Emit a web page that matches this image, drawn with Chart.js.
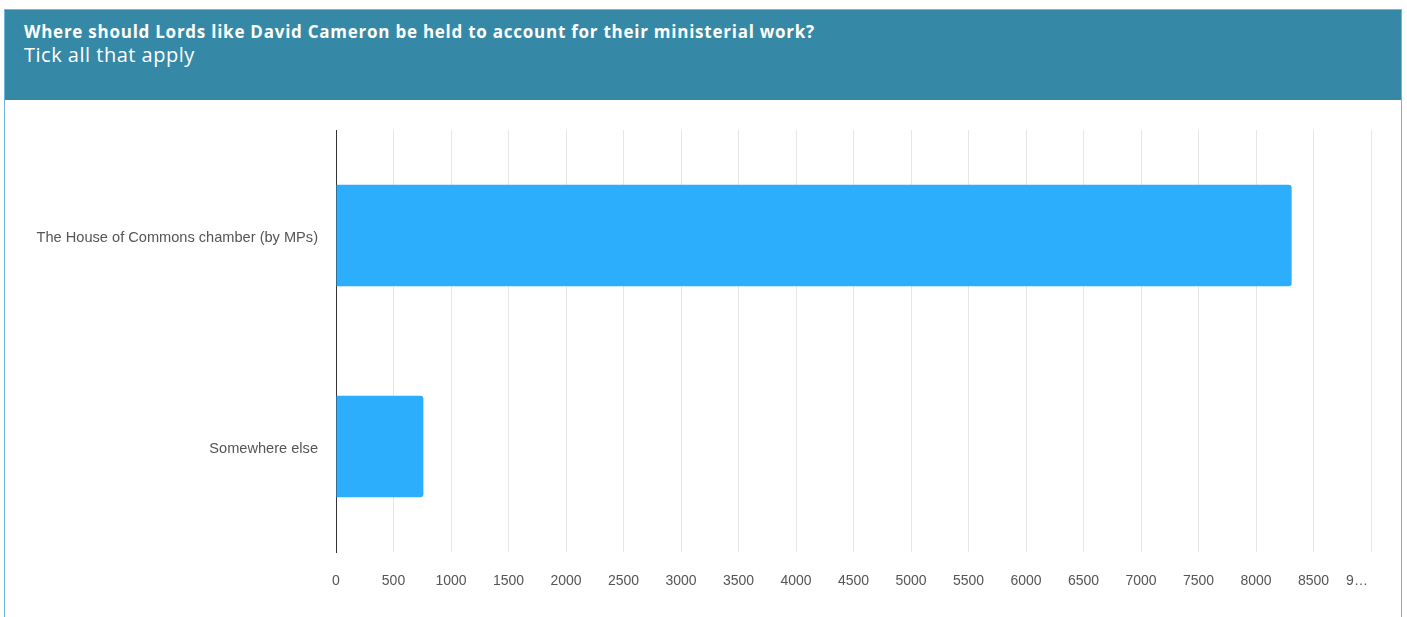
<!DOCTYPE html>
<html>
<head>
<meta charset="utf-8">
<title>Where should Lords be held to account</title>
<script src="https://cdn.jsdelivr.net/npm/chart.js@4"></script>
<style>
    body {
        margin: 0;
        background: #fff;
        font-family: "Open Sans", Lato, sans-serif;
    }
    .panel {
        position: absolute;
        left: 4px;
        top: 9px;
        width: 1396px;
        height: 640px;
        border: 1px solid #6fb6da;
    }
    .panel-head {
        height: 90px;
        background: #3589a6;
        color: #fff;
        padding: 0 19px;
        box-sizing: border-box;
    }
    .panel-head h1 {
        margin: 0;
        padding-top: 10px;
        font-size: 17px;
        letter-spacing: 0.75px;
        font-weight: 700;
    }
    .panel-head p {
        margin: -2px 0 0;
        font-size: 20px;
        letter-spacing: 0.5px;
        font-weight: 400;
    }
    .chart-box {
        position: relative;
        width: 1396px;
        height: 516px;
    }
</style>
</head>
<body>
<div class="panel">
    <div class="panel-head">
        <h1>Where should Lords like David Cameron be held to account for their ministerial work?</h1>
        <p>Tick all that apply</p>
    </div>
    <div class="chart-box">
        <canvas id="answersChart"></canvas>
    </div>
</div>

<script>
// Data
const answers = ['The House of Commons chamber (by MPs)', 'Somewhere else'];
const votes = [8310, 760];
const axisMax = 9000;
const axisStep = 500;

const fontFamily = '"Liberation Sans", Arial, sans-serif';

document.addEventListener('DOMContentLoaded', function() {
    const ctx = document.getElementById('answersChart').getContext('2d');
    new Chart(ctx, {
        type: 'bar',
        data: {
            labels: answers,
            datasets: [{
                data: votes,
                backgroundColor: '#2caefd',
                borderRadius: 3,
                borderSkipped: 'start',
                barPercentage: 0.6,
                categoryPercentage: 0.8
            }]
        },
        options: {
            indexAxis: 'y',
            responsive: true,
            maintainAspectRatio: false,
            animation: false,
            layout: {
                padding: { top: 30, right: 30, left: 0, bottom: 0 }
            },
            plugins: {
                legend: { display: false },
                tooltip: { enabled: false }
            },
            scales: {
                x: {
                    min: 0,
                    max: axisMax,
                    grid: { color: '#e6e6e6', drawTicks: false },
                    border: { display: false },
                    ticks: {
                        stepSize: axisStep,
                        padding: 21,
                        maxRotation: 0,
                        autoSkip: false,
                        color: '#555',
                        font: { family: fontFamily, size: 14 },
                        callback: function(value) {
                            // last label is cut short in the original
                            return value === axisMax ? '9…\u2003\u2003' : value;
                        }
                    },
                    afterFit: function(scale) {
                        scale.height = 64;
                        scale.paddingLeft = 0;
                        scale.paddingRight = 0;
                    }
                },
                y: {
                    grid: { display: false, drawTicks: false },
                    border: { display: true, color: '#333', width: 1 },
                    ticks: {
                        padding: 18,
                        labelOffset: 2,
                        color: '#555',
                        font: { family: fontFamily, size: 14.6 }
                    },
                    afterFit: function(scale) {
                        scale.width = 331;
                    }
                }
            }
        }
    });
});
</script>
</body>
</html>
